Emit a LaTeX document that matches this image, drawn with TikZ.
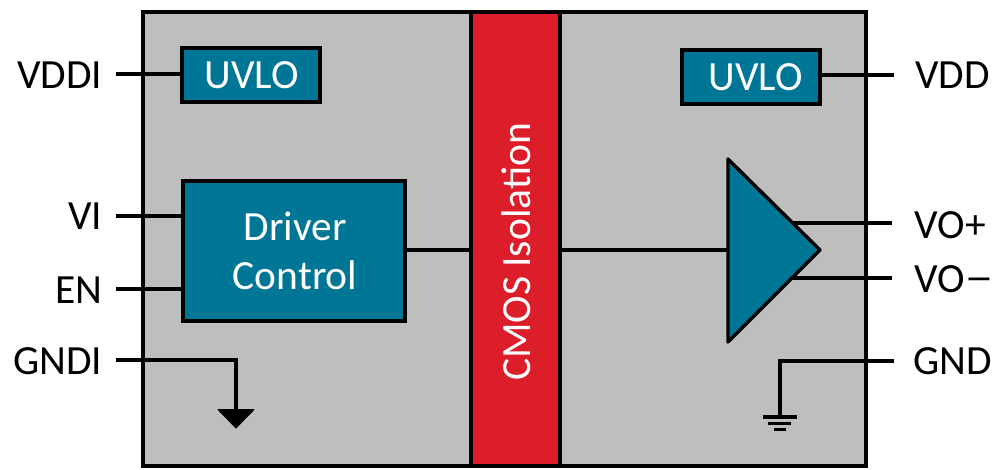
\documentclass[tikz,border=0pt]{standalone}
\usepackage{graphicx}
\usepackage{fontspec}
\setmainfont{Carlito}
\definecolor{teal}{RGB}{0,118,150}
\definecolor{isored}{RGB}{220,30,42}
\definecolor{panel}{RGB}{190,190,190}
\tikzset{
  wire/.style={line width=3.4pt,line join=miter},
  blockbox/.style={draw=black,line width=3.4pt,fill=teal,text=white,inner sep=0pt,align=center,font=\fontsize{41.5}{49}\selectfont},
  pinlabel/.style={inner sep=0pt,font=\fontsize{41.5}{49}\selectfont},
}
\begin{document}
\begin{tikzpicture}[x=1pt,y=-1pt]
\useasboundingbox (0,0) rectangle (999,469);
\node[fill=panel,draw=black,line width=3.6pt,minimum width=723pt,minimum height=454pt,inner sep=0pt] (body) at (504.5,239) {};
\node[fill=isored,draw=black,line width=3.4pt,minimum width=89pt,minimum height=454pt,inner sep=0pt] (iso) at (515.5,239) {};
\node[text=white,rotate=90,inner sep=0pt,font=\fontsize{41.5}{49}\selectfont] (isotext) at (516,252) {CMOS Isolation};
% pin labels
\node[pinlabel,anchor=east] (vddi) at (102.5,75) {VDDI};
\node[pinlabel,anchor=east] (vi) at (102.5,216) {VI};
\node[pinlabel,anchor=east] (en) at (102.5,290) {EN};
\node[pinlabel,anchor=east] (gndi) at (102.5,361) {GNDI};
\node[pinlabel,anchor=west] (vdd) at (915,75) {VDD};
\node[pinlabel,anchor=west] (vop) at (914.5,225) {VO+};
\node[pinlabel,anchor=west] (vom) at (914.5,279) {VO\scalebox{1.35}[1]{−}};
\node[pinlabel,anchor=west] (gnd) at (913,361) {GND};
% anchors
\coordinate (vddiend) at (116,74);
\coordinate (viend) at (116,216);
\coordinate (enend) at (116,289);
\coordinate (gndiend) at (116,360);
\coordinate (vddend) at (894,75);
\coordinate (vopend) at (892,223);
\coordinate (vomend) at (892,278);
\coordinate (gndend) at (894,361);
\coordinate (vopin) at (790,223);
\coordinate (vomin) at (790,278);
\coordinate (gndicorner) at (236,360);
\coordinate (gnditip) at (236,409);
\coordinate (gndcorner) at (780,361);
\coordinate (gndtip) at (780,416);
\coordinate (ampin) at (728,250);
\coordinate (drvout) at (405,250);
% wires behind blocks
\draw[wire] (vopend) -- (vopin);
\draw[wire] (vomend) -- (vomin);
\node[blockbox,minimum width=138pt,minimum height=54pt] (uvlol) at (251,75) {\kern1.5pt UVLO};
\node[blockbox,minimum width=138pt,minimum height=54pt] (uvlor) at (751,77) {\kern9pt UVLO};
\node[blockbox,minimum width=222pt,minimum height=140pt] (drv) at (294,251) {\kern2pt Driver\\\kern2pt Control};
\draw[draw=black,fill=teal,line width=3.4pt,line join=round] (728,159) -- (820,250) -- (728,342) -- cycle;
\draw[wire] (vddiend) -- (uvlol.west |- vddiend);
\draw[wire] (viend) -- (drv.west |- viend);
\draw[wire] (enend) -- (drv.west |- enend);
\draw[wire] (vddend) -- (uvlor.east |- vddend);
\draw[wire] (drv.east |- drvout) -- (iso.west |- drvout);
\draw[wire] (iso.east |- ampin) -- (ampin);
\draw[wire] (gndiend) -- (gndicorner) -- (gnditip);
\draw[wire] (gndend) -- (gndcorner) -- (gndtip);
% ground symbols
\fill[black,line join=round,draw=black,line width=1pt] (218,409.5) -- (254,409.5) -- (236,428) -- cycle;
\fill (762.5,415) rectangle (797,418.5);
\fill (768,421.5) rectangle (791,425);
\fill (774,427.5) rectangle (785.5,430.5);
\end{tikzpicture}
\end{document}
